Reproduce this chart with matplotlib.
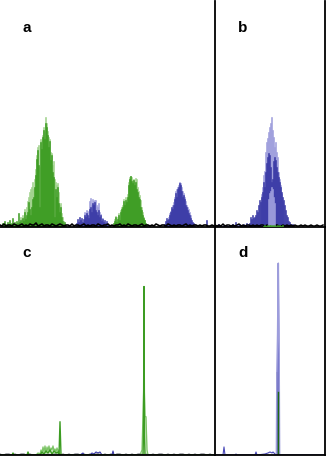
import numpy as np
import matplotlib
matplotlib.use('Agg')
import matplotlib.pyplot as plt

# colours
DARK_GREEN = '#3c9c22'
LIGHT_GREEN = '#9ed28a'
DARK_BLUE = '#3a3aa6'
LAVENDER = '#9d9ddc'

# ---------------- panel a (x = scan index, y = abundance) ----------------
green_a_start = 2
green_a = [4, 2, 6, 3, 0, 5, 2, 7, 3, 4, 9, 2, 5, 3, 6, 4, 14, 5, 7, 3, 9, 6, 15, 8, 12, 15,
           25, 18, 12, 20, 28, 30, 40, 52, 68, 77, 62, 20, 85, 78, 90, 97, 88, 104, 100, 92,
           80, 86, 67, 72, 55, 50, 10, 38, 30, 40, 24, 15, 20, 10, 6, 3, 5, 2]
green_a_light_start = 20
green_a_light = [10, 8, 12, 10, 18, 10, 20, 26, 30, 35, 38, 40, 45, 38, 48, 58, 72, 80, 82, 60,
                 88, 86, 92, 100, 95, 110, 104, 96, 90, 88, 75, 74, 62, 66, 48, 45, 42, 44, 35,
                 22, 24, 14, 10, 6]

green2_a_start = 113
green2_a = [4, 6, 10, 5, 8, 12, 7, 15, 18, 20, 26, 22, 27, 25, 30, 42, 48, 51, 46, 44, 47, 42,
            45, 38, 35, 30, 28, 20, 17, 12, 9, 7, 4, 3]
green2_a_light_start = 114
green2_a_light = [8, 11, 7, 10, 14, 10, 17, 20, 22, 28, 25, 30, 28, 33, 45, 50, 51, 50, 47, 48,
                  45, 49, 48, 40, 36, 32, 27, 20, 15, 10, 7]

blue1_a_start = 76
blue1_a = [4, 8, 5, 10, 7, 9, 5, 8, 12, 10, 14, 12, 9, 18, 20, 15, 24, 22, 25, 17, 15, 12, 17,
           10, 12, 6, 8, 5, 7, 4, 6, 3]
blue1_a_light_start = 84
blue1_a_light = [15, 14, 17, 16, 12, 26, 29, 22, 28, 26, 27, 27, 22, 20, 24, 15, 13, 9, 9]

blue2_a_start = 164
blue2_a = [3, 6, 9, 7, 8, 12, 15, 20, 18, 22, 28, 34, 30, 38, 40, 44, 42, 36, 30, 32, 28, 22,
           20, 17, 14, 12, 9, 7, 5, 4, 3, 0, 0, 0, 0, 0, 0, 0, 0, 0, 0, 0, 7]
blue2_a_light_start = 168
blue2_a_light = [10, 14, 16, 18, 22, 25, 30, 36, 38, 40, 42, 45, 44, 40, 36, 34, 30, 26, 22, 20,
                 18, 15, 12]

noise_a = [2, 1, 3, 1, 2, 2, 1, 3, 2, 1, 2, 3, 1, 2, 1, 3, 2, 2, 4, 1, 2, 3, 1, 2, 2, 1, 3, 2,
           1, 2, 3, 2, 1, 2, 2, 1, 3, 1, 2, 2, 1, 2, 3, 1, 2, 1, 2, 2, 1, 3, 2, 1, 2, 2, 3, 1,
           2, 1, 2, 2, 3, 1, 2, 1, 3, 2, 1, 2, 2, 1, 2, 3, 1, 2, 2, 1, 2, 1, 3, 2, 1, 2, 2, 1,
           3, 2, 1, 2, 1, 2, 2, 1, 2, 3, 1, 2, 1, 2, 2, 1, 2, 1, 2, 2, 1, 1, 2, 1]

# ---------------- panel b ----------------
blue_b_start = 0
blue_b = [1, 2, 1, 3, 1, 2, 0, 1, 2, 1, 0, 2, 1, 1, 2, 0, 1, 3, 1, 2, 5, 1, 2, 1, 3, 2, 1, 2,
          3, 1, 2, 4, 2, 3, 4, 10, 8, 12, 9, 10, 12, 17, 15, 22, 27, 25, 30, 35, 45, 40, 55, 64,
          70, 74, 72, 60, 45, 48, 66, 70, 67, 60, 55, 50, 45, 40, 35, 30, 27, 22, 17, 12, 10, 6,
          5, 3, 2, 3, 2]
lav_b_back_start = 46
lav_b_back = [33, 40, 52, 56, 75, 85, 89, 95, 100, 104, 110, 97, 90, 80, 85, 75, 70, 55, 48, 42,
              33, 25]
lav_b_front_start = 53
lav_b_front = [28, 34, 36, 40, 38, 30, 24]
green_b_start = 48
green_b = [1, 2, 1, 1, 2, 1, 2, 2, 1, 2, 1, 2, 1, 1, 2, 1, 2, 1, 1, 2]
noise_b = [2, 1, 2, 1, 3, 1, 2, 2, 1, 2, 1, 2, 3, 1, 2, 1, 2, 2, 1, 2, 1, 2, 1, 2, 2, 1, 2, 1,
           2, 1, 2, 2, 1, 1, 2, 1, 2, 1, 2, 1, 2, 1, 1, 2, 1, 2, 1, 1, 2, 1, 1, 2, 1, 1, 2]

# ---------------- panel c (traces) ----------------
green_c_x = [0, 12, 13, 14, 27, 28, 29, 40, 42, 44, 46, 48, 50, 52, 54, 56, 58, 59, 60, 61, 62,
             140, 143, 143.5, 144, 144.5, 145, 147, 215]
green_c_y = [0, 0, 2, 0, 0, 3, 0, 0, 3, 1, 4, 2, 5, 1, 4, 2, 3, 0, 33, 0, 0, 0, 0, 20, 167, 20,
             0, 0, 0]
green_c_light_x = [36, 38, 40, 41, 42, 43, 44, 45, 46, 47, 48, 49, 50, 51, 52, 53, 54, 55, 56,
                   57, 58, 59, 60, 62, 140, 142, 143, 144, 145, 146, 147, 148]
green_c_light_y = [0, 2, 1, 5, 2, 8, 3, 9, 2, 8, 4, 9, 3, 7, 5, 9, 4, 6, 3, 7, 4, 5, 0, 0, 0, 5,
                   40, 77, 38, 38, 5, 0]
blue_c_x = [64, 80, 83, 84, 90, 92, 94, 96, 98, 100, 102, 112, 113, 114, 140]
blue_c_y = [0, 0, 2, 0, 0, 2, 1, 3, 2, 3, 0, 0, 4, 0, 0]
noise_c = [1, 0, 1, 1, 0, 1, 0, 1, 1, 0, 1, 0, 0, 1, 1, 0, 1, 0, 1, 1, 0, 1, 0, 1, 0, 1, 1, 0,
           1, 0, 1, 0, 1, 1, 0, 1, 0, 1, 0, 1, 1, 0, 1, 0, 1, 0, 1, 1, 0, 1, 0, 1, 0, 1, 1, 0,
           1, 0, 1, 0, 1, 1, 0, 1, 0, 1, 0, 1, 1, 0, 1, 0]

# ---------------- panel d (traces) ----------------
blue_d_x = [0, 8, 9, 10, 20, 21, 22, 40, 41, 42, 50, 53, 55, 57, 58, 60, 62, 62.6, 63.3, 63.8,
            64.3, 66, 110]
blue_d_y = [0, 0, 8, 0, 0, 1, 0, 0, 3, 0, 1, 2, 3, 2, 3, 1, 0, 60, 190, 100, 0, 0, 0]
lav_d_x = [61, 61.4, 61.9, 62.6, 63.3, 64.0, 64.6, 65]
lav_d_y = [0, 0, 82, 120, 190, 122, 0, 0]
gray_d_x = [61.3, 64.4]
gray_d_y = [82, 82]
green_d_x = [63.3, 63.3]
green_d_y = [0, 62]

W, H = 328, 457
fig = plt.figure(figsize=(W / 100, H / 100), dpi=100)


def px_axes(x0, x1, ytop, ybot):
    return fig.add_axes([x0 / W, (H - ybot) / H, (x1 - x0) / W, (ybot - ytop) / H])


ax_a = px_axes(0, 215, 1, 227)
ax_b = px_axes(215, 325, 1, 227)
ax_c = px_axes(0, 215, 227, 455)
ax_d = px_axes(215, 325, 227, 455)


def bars(ax, start, vals, color, z):
    x = start + np.arange(len(vals))
    # thin edge in the same colour closes the seams between neighbouring bars
    ax.bar(x, vals, width=1.0, align='edge', color=color, edgecolor=color, linewidth=0.4,
           zorder=z)


bars(ax_a, green_a_light_start, green_a_light, LIGHT_GREEN, 1)
bars(ax_a, green_a_start, green_a, DARK_GREEN, 2)
bars(ax_a, green2_a_light_start, green2_a_light, LIGHT_GREEN, 1)
bars(ax_a, green2_a_start, green2_a, DARK_GREEN, 2)
bars(ax_a, blue1_a_light_start, blue1_a_light, LAVENDER, 1)
bars(ax_a, blue1_a_start, blue1_a, DARK_BLUE, 2)
bars(ax_a, blue2_a_light_start, blue2_a_light, LAVENDER, 1)
bars(ax_a, blue2_a_start, blue2_a, DARK_BLUE, 2)
ax_a.plot(np.arange(len(noise_a)) * 2, noise_a, color='black', lw=1.2, zorder=2.2)

bars(ax_b, lav_b_back_start, lav_b_back, LAVENDER, 1)
bars(ax_b, blue_b_start, blue_b, DARK_BLUE, 2)
bars(ax_b, lav_b_front_start, lav_b_front, LAVENDER, 3)
bars(ax_b, green_b_start, green_b, DARK_GREEN, 3)
ax_b.plot(np.arange(len(noise_b)) * 2, noise_b, color='black', lw=1.1, zorder=2.2)

ax_c.plot(np.arange(len(noise_c)) * 3, noise_c, color='#555566', lw=0.7, zorder=1)
ax_c.fill_between(green_c_light_x, green_c_light_y, color=LIGHT_GREEN, alpha=0.35, lw=0)
ax_c.plot(green_c_light_x, green_c_light_y, color='#7cc466', lw=0.9)
ax_c.plot(blue_c_x, blue_c_y, color=DARK_BLUE, lw=0.8)
ax_c.plot(green_c_x, green_c_y, color=DARK_GREEN, lw=1.0)

ax_d.fill_between(gray_d_x, gray_d_y, color='#8e8e99', lw=0, zorder=1)
ax_d.plot(lav_d_x, lav_d_y, color=LAVENDER, lw=1.1, zorder=2)
ax_d.plot(blue_d_x, blue_d_y, color='#4a4ab8', lw=0.8, zorder=1.5)
ax_d.plot(green_d_x, green_d_y, color='#1f6b12', lw=1.0, zorder=2.1)

for ax, w in [(ax_a, 215), (ax_b, 110), (ax_c, 215), (ax_d, 110)]:
    ax.set_xlim(0, w)
    ax.set_ylim(0, 226)
    ax.set_xticks([])
    ax.set_yticks([])
    ax.patch.set_alpha(0)
    for s in ax.spines.values():
        s.set_linewidth(1.3)
        s.set_color('black')
    ax.spines['top'].set_visible(False)

for ax in (ax_a, ax_c):
    ax.spines['left'].set_visible(False)
    ax.spines['right'].set_visible(False)

# panel letters
for lab, x, y in [('a', 27, 32), ('b', 243, 32), ('c', 27, 257), ('d', 243, 257)]:
    fig.text(x / W, 1 - y / H, lab, fontsize=11, fontweight='bold', family='Liberation Sans',
             ha='center', va='baseline')

fig.savefig('out.png', dpi=100)
